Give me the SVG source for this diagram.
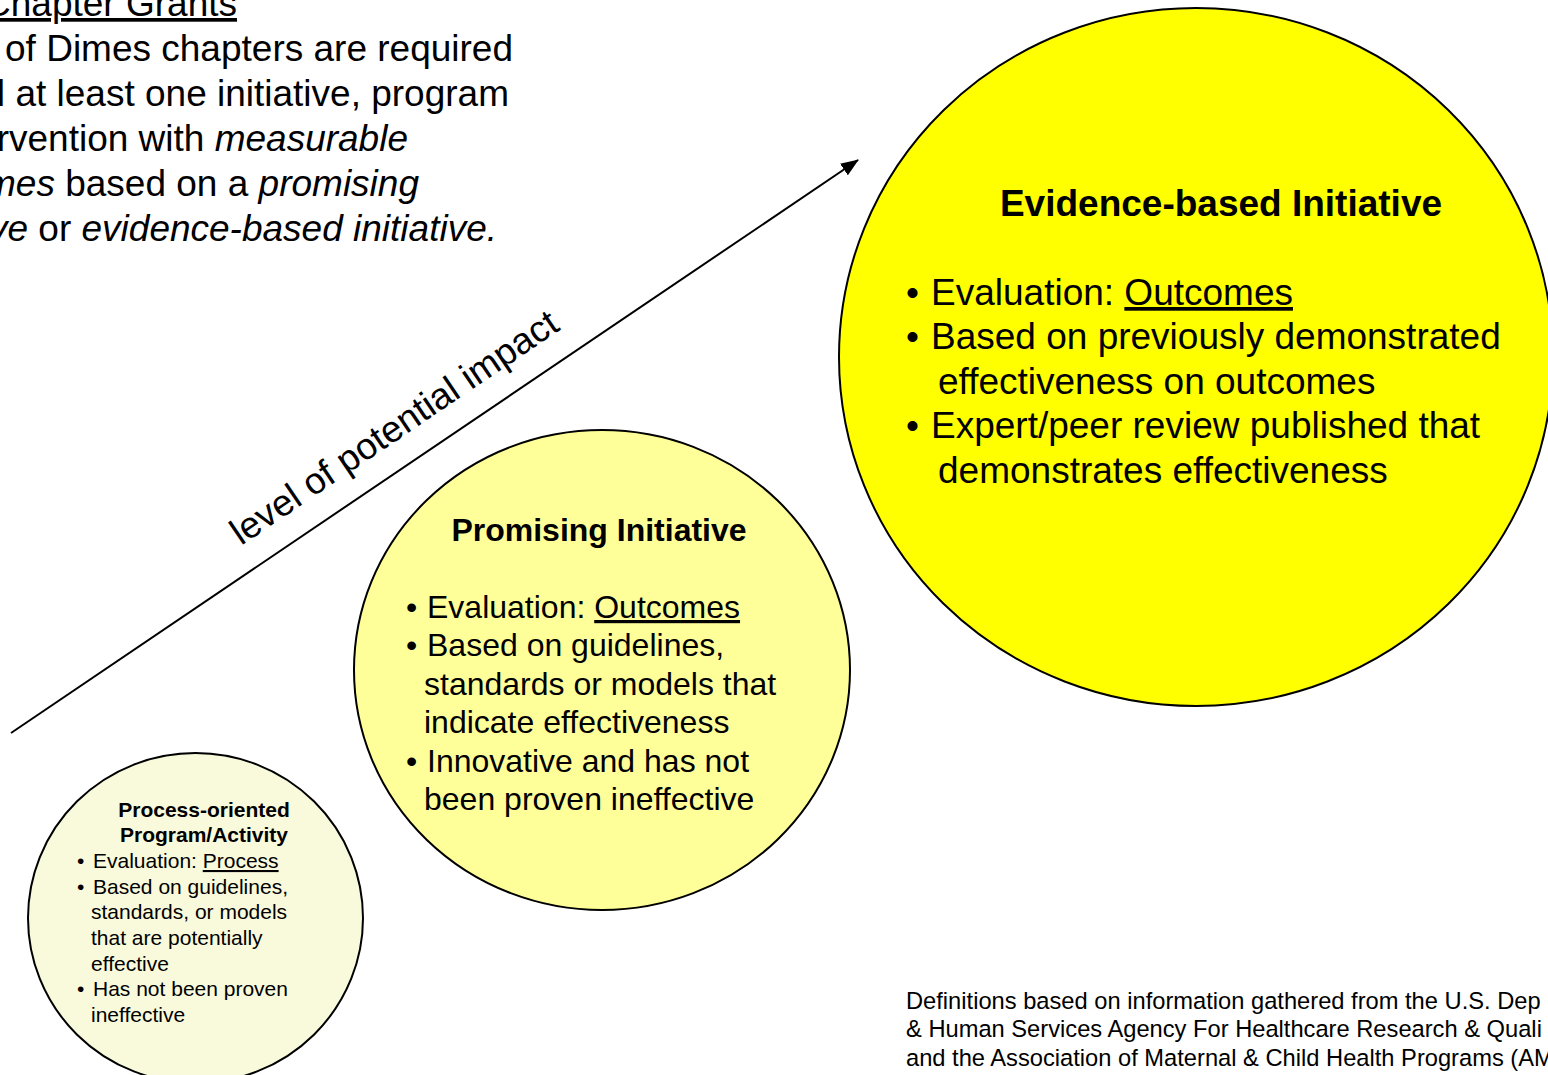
<svg xmlns="http://www.w3.org/2000/svg" width="1548" height="1075" viewBox="0 0 1548 1075">
<defs>
<style>
text{font-family:"Liberation Sans",Arial,sans-serif;fill:#000}
.b{font-weight:bold}
.u{text-decoration:underline}
.i{font-style:italic}
.c{stroke:#000;stroke-width:2}
.t37{font-size:37px}
.t32{font-size:32px}
.t21{font-size:21px}
.t24{font-size:23.7px}
</style>
<marker id="ah" markerWidth="18" markerHeight="14" refX="17" refY="7" orient="auto" markerUnits="userSpaceOnUse">
<path d="M0,0 L18,7 L0,14 z" fill="#000"/>
</marker>
</defs>
<rect width="1548" height="1075" fill="#fff"/>

<g id="intro">
<text class="t37" x="237" y="16" text-anchor="end"><tspan class="u">Chapter Grants</tspan></text>
<text class="t37" x="513" y="61" text-anchor="end">of Dimes chapters are required</text>
<text class="t37" x="509" y="106" text-anchor="end">fund at least one initiative, program</text>
<text class="t37" x="408" y="151" text-anchor="end">intervention with <tspan class="i">measurable</tspan></text>
<text class="t37" x="419" y="196" text-anchor="end"><tspan class="i">outcomes</tspan> based on a <tspan class="i">promising</tspan></text>
<text class="t37" x="497" y="241" text-anchor="end"><tspan class="i">initiative</tspan> or <tspan class="i">evidence-based initiative.</tspan></text>
</g>

<g id="process">
<ellipse class="c" cx="195.5" cy="918" rx="167.5" ry="165" fill="#F9FADC"/>
<text class="t21 b" x="204" y="817" text-anchor="middle">Process-oriented</text>
<text class="t21 b" x="204" y="842" text-anchor="middle">Program/Activity</text>
<text class="t21" y="868"><tspan x="77">•</tspan><tspan x="93">Evaluation: </tspan><tspan class="u">Process</tspan></text>
<text class="t21" y="894"><tspan x="77">•</tspan><tspan x="93">Based on guidelines,</tspan></text>
<text class="t21" x="91" y="919">standards, or models</text>
<text class="t21" x="91" y="945">that are potentially</text>
<text class="t21" x="91" y="971">effective</text>
<text class="t21" y="996"><tspan x="77">•</tspan><tspan x="93">Has not been proven</tspan></text>
<text class="t21" x="91" y="1022">ineffective</text>
</g>

<g id="promising">
<ellipse class="c" cx="602" cy="670" rx="248" ry="240" fill="#FFFF99"/>
<text class="t32 b" x="599" y="541" text-anchor="middle">Promising Initiative</text>
<text class="t32" y="618"><tspan x="406">•</tspan><tspan x="427">Evaluation: </tspan><tspan class="u">Outcomes</tspan></text>
<text class="t32" y="656"><tspan x="406">•</tspan><tspan x="427">Based on guidelines,</tspan></text>
<text class="t32" x="424" y="695">standards or models that</text>
<text class="t32" x="424" y="733">indicate effectiveness</text>
<text class="t32" y="772"><tspan x="406">•</tspan><tspan x="427">Innovative and has not</tspan></text>
<text class="t32" x="424" y="810">been proven ineffective</text>
</g>

<g id="evidence">
<ellipse class="c" cx="1196" cy="357" rx="357" ry="349" fill="#FFFF00"/>
<text class="t37 b" x="1221" y="216" text-anchor="middle">Evidence-based Initiative</text>
<text class="t37" y="305"><tspan x="906">•</tspan><tspan x="931">Evaluation: </tspan><tspan class="u">Outcomes</tspan></text>
<text class="t37" y="349"><tspan x="906">•</tspan><tspan x="931">Based on previously demonstrated</tspan></text>
<text class="t37" x="938" y="394">effectiveness on outcomes</text>
<text class="t37" y="438"><tspan x="906">•</tspan><tspan x="931">Expert/peer review published that</tspan></text>
<text class="t37" x="938" y="483">demonstrates effectiveness</text>
</g>

<g id="connectors">
<line x1="11" y1="733" x2="858" y2="160" stroke="#000" stroke-width="2" marker-end="url(#ah)"/>
<text class="t37" x="0" y="0" transform="translate(241,546) rotate(-34.1)">level of potential impact</text>
</g>

<g id="footnote">
<text class="t24" x="906" y="1009">Definitions based on information gathered from the U.S. Dep</text>
<text class="t24" x="906" y="1037">&amp; Human Services Agency For Healthcare Research &amp; Quali</text>
<text class="t24" x="906" y="1066">and the Association of Maternal &amp; Child Health Programs (AM</text>
</g>
</svg>
